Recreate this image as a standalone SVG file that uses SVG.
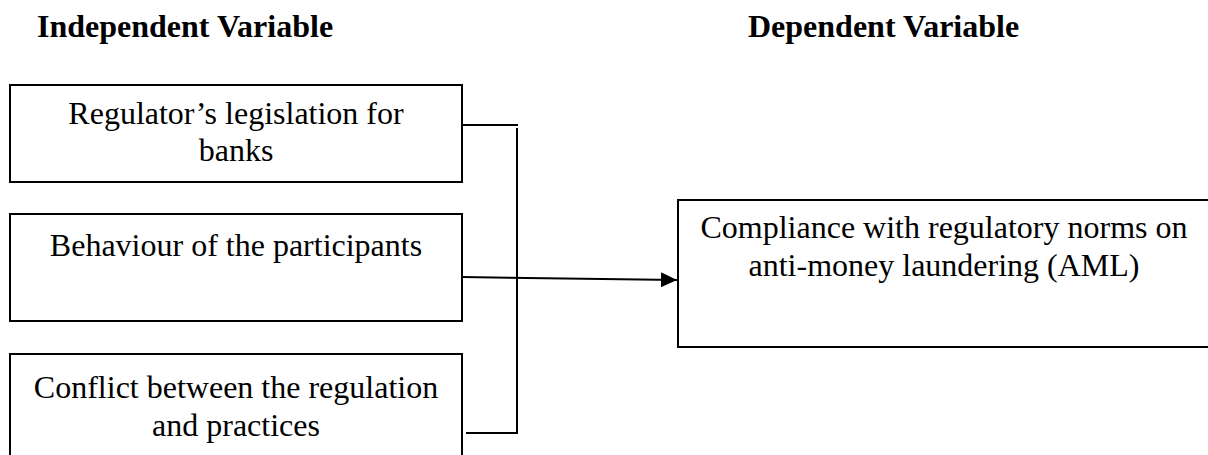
<svg xmlns="http://www.w3.org/2000/svg" width="1208" height="455" viewBox="0 0 1208 455">
<style>
.box{fill:#fff;stroke:#000;stroke-width:2}
.t{font-family:"Liberation Serif","Times New Roman",serif;font-size:32px;fill:#000;text-anchor:middle}
.h{font-family:"Liberation Serif","Times New Roman",serif;font-size:32px;font-weight:bold;fill:#000}
.c{fill:none;stroke:#000;stroke-width:2}
</style>
<defs>
<marker id="ah" markerWidth="8" markerHeight="7.5" refX="8" refY="3.75" orient="auto" markerUnits="strokeWidth">
<path d="M0,0 L8,3.75 L0,7.5 Z" fill="#000"/>
</marker>
</defs>
<rect width="1208" height="455" fill="#fff"/>
<text class="h" x="37" y="37">Independent Variable</text>
<text class="h" x="748" y="37">Dependent Variable</text>
<g id="connectors">
<line class="c" x1="462" y1="125" x2="518" y2="125"/>
<line class="c" x1="517" y1="128" x2="517" y2="433"/>
<line class="c" x1="466" y1="433" x2="518" y2="433"/>
<line class="c" x1="462" y1="277" x2="677" y2="280" marker-end="url(#ah)"/>
</g>
<g id="n1">
<rect class="box" x="10" y="85" width="452" height="97"/>
<text class="t" x="236" y="124">Regulator’s legislation for</text>
<text class="t" x="236" y="161">banks</text>
</g>
<g id="n2">
<rect class="box" x="10" y="214" width="452" height="107"/>
<text class="t" x="236" y="256">Behaviour of the participants</text>
</g>
<g id="n3">
<rect class="box" x="10" y="354" width="452" height="110"/>
<text class="t" x="236" y="398">Conflict between the regulation</text>
<text class="t" x="236" y="436">and practices</text>
</g>
<g id="n4">
<rect class="box" x="678" y="200" width="540" height="147"/>
<text class="t" x="944" y="238">Compliance with regulatory norms on</text>
<text class="t" x="944" y="276">anti-money laundering (AML)</text>
</g>
</svg>
